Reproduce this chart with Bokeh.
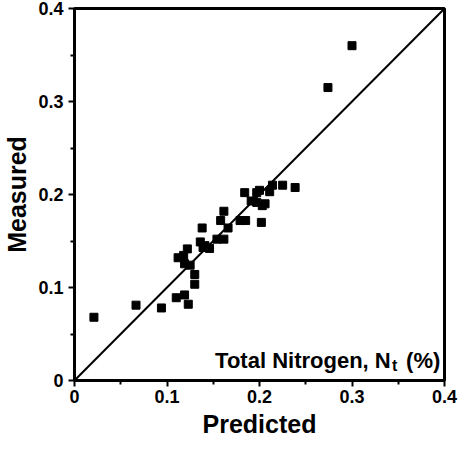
from bokeh.plotting import figure
from bokeh.models import Range1d, FixedTicker, CustomJSTickFormatter, Label
from bokeh.embed import file_html
from bokeh.resources import INLINE

# ---- data ----
predicted = [0.021, 0.0665, 0.094, 0.110, 0.119, 0.123, 0.130, 0.130, 0.112, 0.118,
             0.122, 0.119, 0.125, 0.138, 0.136, 0.141, 0.146, 0.139, 0.154, 0.1615,
             0.158, 0.1615, 0.166, 0.179, 0.185, 0.184, 0.191, 0.197, 0.200, 0.202,
             0.203, 0.206, 0.211, 0.214, 0.225, 0.2385, 0.274, 0.300, 0.197]
measured = [0.068, 0.081, 0.078, 0.089, 0.092, 0.082, 0.114, 0.1035, 0.132, 0.1345,
            0.1415, 0.1255, 0.124, 0.164, 0.149, 0.145, 0.142, 0.143, 0.152, 0.182,
            0.172, 0.152, 0.164, 0.172, 0.172, 0.202, 0.193, 0.202, 0.2045, 0.170,
            0.188, 0.190, 0.203, 0.210, 0.210, 0.2075, 0.315, 0.360, 0.1915]
line_x = [0.0, 0.4]
line_y = [0.0, 0.4]
major_ticks = [0.0, 0.1, 0.2, 0.3, 0.4]
minor_ticks = [0.05, 0.15, 0.25, 0.35]
x_title = "Predicted"
y_title = "Measured"
note_main = "Total Nitrogen, N"
note_sub = "t"
note_tail = "(%)"

FONT = "Liberation Sans"

p = figure(width=461, height=440, output_backend="svg", toolbar_location=None,
           x_range=Range1d(0, 0.4), y_range=Range1d(0, 0.4),
           min_border_left=71, min_border_right=17, min_border_top=8, min_border_bottom=58)
p.background_fill_color = "white"
p.border_fill_color = "white"
p.grid.visible = False
p.outline_line_color = "black"
p.outline_line_width = 3

p.line(line_x, line_y, line_color="black", line_width=2)
p.scatter(predicted, measured, marker="square", size=8, fill_color="black", line_color="black")

fmt = CustomJSTickFormatter(code="return Math.abs(tick) < 1e-9 ? '0' : tick.toFixed(1);")
for ax in (p.xaxis[0], p.yaxis[0]):
    ax.ticker = FixedTicker(ticks=major_ticks, minor_ticks=minor_ticks)
    ax.formatter = fmt
    ax.axis_line_width = 3
    ax.axis_line_color = "black"
    ax.major_tick_line_width = 2
    ax.minor_tick_line_width = 2
    ax.major_tick_out = 6
    ax.major_tick_in = 0
    ax.minor_tick_out = 4
    ax.minor_tick_in = 0
    ax.major_label_text_font = FONT
    ax.major_label_text_font_style = "bold"
    ax.major_label_text_font_size = "18px"
    ax.major_label_text_color = "black"
    ax.axis_label_text_font = FONT
    ax.axis_label_text_font_style = "bold"
    ax.axis_label_text_font_size = "25px"
    ax.axis_label_text_color = "black"

p.xaxis.axis_label = x_title
p.yaxis.axis_label = y_title
p.xaxis.major_label_standoff = 3
p.yaxis.major_label_standoff = 5
p.xaxis.axis_label_standoff = 4
p.yaxis.axis_label_standoff = 4

lab1 = Label(x=0.152, y=0.022, text=note_main, text_font=FONT, text_font_style="bold",
             text_font_size="22px", text_color="black", text_baseline="alphabetic", text_align="left")
lab2 = Label(x=0.152, y=0.022, x_offset=177, y_offset=-5, text=note_sub, text_font=FONT,
             text_font_style="bold", text_font_size="16px", text_color="black",
             text_baseline="alphabetic", text_align="left")
lab3 = Label(x=0.152, y=0.022, x_offset=191, text=note_tail, text_font=FONT, text_font_style="bold",
             text_font_size="22px", text_color="black", text_baseline="alphabetic", text_align="left")
for l in (lab1, lab2, lab3):
    p.add_layout(l)

open("out.html", "w").write(file_html(p, INLINE))
